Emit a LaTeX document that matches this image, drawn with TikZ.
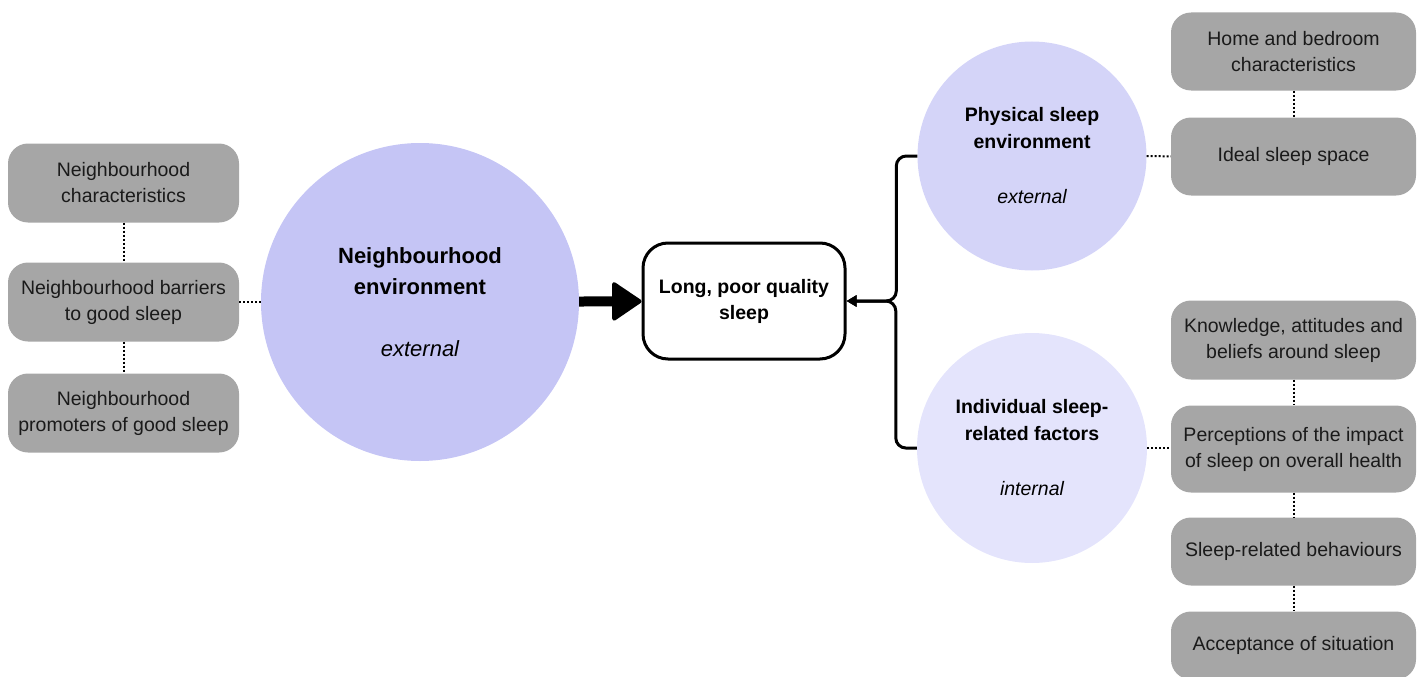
\documentclass[tikz,border=0pt]{standalone}
\usepackage{fontspec}
\setmainfont{Liberation Sans}
\usetikzlibrary{arrows.meta}
\definecolor{boxgrey}{HTML}{A6A6A6}
\definecolor{nbpurple}{HTML}{C5C5F5}
\definecolor{physpurple}{HTML}{D4D4F8}
\definecolor{indivpurple}{HTML}{E4E4FC}
\definecolor{boxtext}{HTML}{1A1A1A}
\begin{document}
\begin{tikzpicture}[x=1pt, y=-1pt]

      \tikzset{factor/.style={fill=boxgrey, rounded corners=20pt, inner sep=0pt, align=center, text=boxtext, font=\fontsize{19.5}{26}\selectfont}}
      \tikzset{theme/.style={circle, inner sep=0pt, align=center, font=\bfseries\fontsize{19.5}{27}\selectfont}}
      \tikzset{link/.style={dash pattern=on 2pt off 2pt, line width=2pt}}
      \useasboundingbox (0,0) rectangle (1424,677);
%% Themes
      	\node[theme, fill=nbpurple, minimum size=318pt, font=\bfseries\fontsize{22}{31}\selectfont] (nbhood) at (420,302) {Neighbourhood\\environment\\[31pt]{\normalfont\itshape external}};
      	\node[theme, fill=physpurple, minimum size=229pt] (phys) at (1032,156) {Physical sleep\\environment\\[28pt]{\normalfont\itshape external}};
      	\node[theme, fill=indivpurple, minimum size=230pt] (indiv) at (1032,448) {Individual sleep-\\related factors\\[28pt]{\normalfont\itshape internal}};
      	\node[draw, line width=3pt, rounded corners=25pt, minimum width=202pt, minimum height=116pt, align=center, font=\bfseries\fontsize{19.5}{26}\selectfont] (sleep) at (744,301) {Long, poor quality\\sleep};
%% Neighbourhood factors
      	\node[factor, minimum width=231pt, minimum height=79pt] (nb1) at (123.5,183) {Neighbourhood\\characteristics};
      	\node[factor, minimum width=231pt, minimum height=79pt] (nb2) at (123.5,302) {Neighbourhood barriers\\to good sleep};
      	\node[factor, minimum width=231pt, minimum height=79pt] (nb3) at (123.5,413) {Neighbourhood\\promoters of good sleep};
%% Physical factors
      	\node[factor, minimum width=245pt, minimum height=78pt] (ph1) at (1293.5,51.5) {Home and bedroom\\characteristics};
      	\node[factor, minimum width=245pt, minimum height=78pt] (ph2) at (1293.5,156.5) {Ideal sleep space};
%% Individual factors
      	\node[factor, minimum width=245pt, minimum height=79pt] (in1) at (1293.5,340) {Knowledge, attitudes and\\beliefs around sleep};
      	\node[factor, minimum width=245pt, minimum height=87pt] (in2) at (1293.5,449) {Perceptions of the impact\\of sleep on overall health};
      	\node[factor, minimum width=245pt, minimum height=68pt] (in3) at (1293.5,551.5) {Sleep-related behaviours};
      	\node[factor, minimum width=245pt, minimum height=68pt] (in4) at (1293.5,645.5) {Acceptance of situation};
%Edges
		\draw[link] (nb1) -- (nb2);
		\draw[link] (nb2) -- (nb3);
		\draw[link] (nb2) -- (nbhood);
		\draw[link] (ph1) -- (ph2);
		\draw[link] (phys) -- (ph2);
		\draw[link] (in1) -- (in2);
		\draw[link] (in2) -- (in3);
		\draw[link] (in3) -- (in4);
		\draw[link] (indiv) -- (in2.west |- indiv);
		\draw[line width=10pt, -{Triangle[length=31pt, width=41pt, line width=4pt, round]}] (nbhood) -- (sleep);
		\draw[line width=3pt, rounded corners=10pt, -{Triangle[length=10pt, width=11pt]}] (phys.west) -- ++(-21,0) |- (sleep.east);
		\draw[line width=3pt, rounded corners=10pt, -{Triangle[length=10pt, width=11pt]}] (indiv.west) -- ++(-21,0) |- (sleep.east);

	\end{tikzpicture}
\end{document}
